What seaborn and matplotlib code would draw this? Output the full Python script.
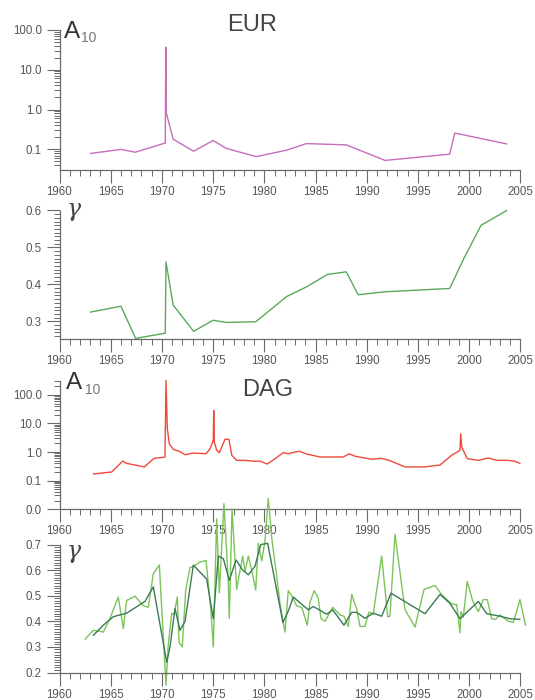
import numpy as np
import pandas as pd
import matplotlib
matplotlib.use("Agg")
import matplotlib.pyplot as plt
import matplotlib.ticker as mticker
import seaborn as sns

# ---------------- data ----------------
eur_a10_year = [1963.0, 1966.0, 1967.4, 1970.33, 1970.38, 1970.42, 1971.1, 1973.1, 1975.0, 1976.3,
                1979.2, 1982.2, 1984.1, 1988.0, 1991.8, 1998.1, 1998.6, 2003.7]
eur_a10_val = [0.079, 0.1, 0.085, 0.145, 36.6, 0.84, 0.18, 0.09, 0.167, 0.106,
               0.066, 0.096, 0.14, 0.13, 0.053, 0.076, 0.257, 0.137]

eur_gam_year = [1963.0, 1966.0, 1967.43, 1970.33, 1970.4, 1971.1, 1973.1, 1975.0, 1976.33, 1979.17,
                1982.17, 1984.1, 1986.17, 1988.0, 1989.17, 1991.77, 1998.1, 1999.5, 2001.17, 2003.67]
eur_gam_val = [0.325, 0.341, 0.254, 0.268, 0.461, 0.344, 0.273, 0.303, 0.297, 0.299,
               0.367, 0.393, 0.427, 0.434, 0.372, 0.380, 0.389, 0.471, 0.560, 0.600]

dag_a10_year = [1963.3, 1965.1, 1966.17, 1966.56, 1968.28, 1969.23, 1970.30, 1970.40, 1970.53, 1970.72,
                1971.11, 1971.70, 1972.26, 1973.07, 1974.31, 1974.70, 1975.02, 1975.06, 1975.12, 1975.35,
                1975.61, 1976.16, 1976.55, 1976.82, 1977.30, 1978.12, 1979.09, 1979.58, 1980.29, 1981.05,
                1981.86, 1982.34, 1983.0, 1983.42, 1984.14, 1985.44, 1987.71, 1988.30, 1988.86, 1990.49,
                1991.46, 1992.27, 1993.74, 1995.69, 1997.16, 1998.30, 1999.11, 1999.18, 1999.28, 1999.82,
                2000.90, 2001.88, 2002.70, 2003.83, 2004.48, 2004.97]
dag_a10_val = [0.17, 0.2, 0.48, 0.40, 0.30, 0.60, 0.66, 320.0, 6.5, 1.95,
               1.24, 1.06, 0.805, 0.92, 0.87, 1.30, 2.56, 28.7, 2.24, 1.15,
               0.95, 2.78, 2.78, 0.77, 0.51, 0.51, 0.473, 0.48, 0.38, 0.583,
               0.95, 0.87, 1.0, 1.06, 0.85, 0.67, 0.67, 0.87, 0.71, 0.556,
               0.60, 0.497, 0.30, 0.30, 0.35, 0.77, 1.15, 4.37, 1.5, 0.583,
               0.51, 0.617, 0.51, 0.51, 0.473, 0.40]

dag_gam_year = [1962.49, 1963.30, 1963.79, 1964.28, 1964.93, 1965.74, 1966.23, 1966.56, 1967.37, 1968.18,
                1968.67, 1969.16, 1969.75, 1970.40, 1970.62, 1970.96, 1971.18, 1971.50, 1971.67, 1971.99,
                1972.32, 1972.74, 1973.07, 1973.65, 1974.31, 1974.79, 1975.02, 1975.35, 1975.61, 1976.06,
                1976.48, 1976.58, 1976.85, 1977.30, 1977.63, 1977.89, 1978.12, 1978.44, 1978.77, 1979.16,
                1979.41, 1979.75, 1980.07, 1980.39, 1980.72, 1981.14, 1981.53, 1982.02, 1982.34, 1982.68,
                1983.16, 1983.65, 1984.20, 1984.46, 1984.88, 1985.27, 1985.54, 1985.93, 1986.68, 1987.39,
                1987.78, 1988.20, 1988.54, 1989.02, 1989.35, 1989.83, 1990.22, 1990.64, 1991.46, 1992.05,
                1992.27, 1992.76, 1993.74, 1994.72, 1995.60, 1996.67, 1997.32, 1998.30, 1998.79, 1999.11,
                1999.21, 1999.43, 1999.82, 2000.35, 2000.90, 2001.39, 2001.78, 2002.21, 2002.60, 2003.02,
                2003.83, 2004.32, 2004.97, 2005.50]
dag_gam_val = [0.330, 0.365, 0.362, 0.358, 0.412, 0.495, 0.372, 0.482, 0.498, 0.461,
               0.455, 0.586, 0.620, 0.150, 0.308, 0.432, 0.425, 0.495, 0.318, 0.300,
               0.520, 0.610, 0.614, 0.630, 0.638, 0.440, 0.300, 0.800, 0.512, 0.860,
               0.560, 0.412, 0.840, 0.525, 0.600, 0.655, 0.595, 0.655, 0.600, 0.522,
               0.705, 0.636, 0.715, 0.880, 0.728, 0.600, 0.470, 0.358, 0.520, 0.500,
               0.460, 0.455, 0.385, 0.475, 0.520, 0.490, 0.410, 0.400, 0.455, 0.425,
               0.420, 0.380, 0.505, 0.448, 0.380, 0.380, 0.436, 0.428, 0.655, 0.418,
               0.420, 0.740, 0.445, 0.378, 0.525, 0.540, 0.505, 0.468, 0.465, 0.355,
               0.438, 0.416, 0.556, 0.480, 0.438, 0.485, 0.485, 0.410, 0.408, 0.425,
               0.400, 0.396, 0.485, 0.385]

dag_gam_smooth_year = [1963.30, 1964.28, 1965.25, 1966.56, 1968.35, 1969.16, 1970.47, 1970.79, 1971.28, 1971.77,
                       1972.26, 1973.07, 1974.37, 1975.02, 1975.51, 1976.00, 1976.58, 1977.24, 1977.89, 1978.44,
                       1979.09, 1979.65, 1980.33, 1981.82, 1982.34, 1982.83, 1984.30, 1984.79, 1986.09, 1986.68,
                       1987.78, 1988.54, 1989.02, 1989.83, 1990.64, 1991.46, 1992.37, 1995.69, 1997.16, 1998.13,
                       1999.11, 2000.90, 2001.72, 2003.02, 2004.00, 2004.97]
dag_gam_smooth_val = [0.345, 0.385, 0.418, 0.432, 0.478, 0.535, 0.240, 0.300, 0.450, 0.365,
                      0.400, 0.620, 0.565, 0.410, 0.655, 0.645, 0.560, 0.640, 0.600, 0.582,
                      0.615, 0.700, 0.705, 0.395, 0.440, 0.495, 0.445, 0.458, 0.428, 0.445,
                      0.385, 0.435, 0.435, 0.412, 0.432, 0.420, 0.510, 0.430, 0.505, 0.470,
                      0.410, 0.478, 0.430, 0.420, 0.410, 0.408]

x_ticks = [1960, 1965, 1970, 1975, 1980, 1985, 1990, 1995, 2000, 2005]

# ---------------- style ----------------
sns.set_theme(style="white")
plt.rcParams['font.family'] = ['Liberation Sans', 'DejaVu Sans']
plt.rcParams['xtick.bottom'] = True
plt.rcParams['ytick.left'] = True

W, H = 535, 700
fig = plt.figure(figsize=(W / 100, H / 100), dpi=100)
fig.patch.set_facecolor("white")

AX_COL = "#6a6a6a"
LBL_COL = "#555555"
LEFT, RIGHT = 59.5, 520.3


def make_ax(top, bottom):
    ax = fig.add_axes([LEFT / W, 1 - bottom / H, (RIGHT - LEFT) / W, (bottom - top) / H])
    ax.set_facecolor("none")
    return ax


def style_ax(ax):
    for s in ("top", "right"):
        ax.spines[s].set_visible(False)
    for s in ("left", "bottom"):
        ax.spines[s].set_visible(True)
        ax.spines[s].set_color(AX_COL)
        ax.spines[s].set_linewidth(0.9)
    ax.set_xlim(1960, 2005)
    ax.set_xticks(x_ticks)
    ax.xaxis.set_minor_locator(mticker.MultipleLocator(1))
    ax.xaxis.set_major_formatter(mticker.FormatStrFormatter('%d'))
    ax.tick_params(axis='both', which='both', bottom=True, left=True, top=False, right=False,
                   direction='out')
    ax.tick_params(axis='both', which='major', length=9.2, width=0.8, color=AX_COL,
                   labelcolor=LBL_COL, labelsize=8.3)
    ax.tick_params(axis='both', which='minor', length=4.5, width=0.7, color=AX_COL)
    ax.tick_params(axis='x', which='major', pad=2.4)
    ax.tick_params(axis='y', which='major', pad=3.5)
    ax.grid(False)
    ax.set_xlabel("")
    ax.set_ylabel("")


def log_axis(ax, lo, hi):
    ax.set_yscale("log")
    ax.set_ylim(lo, hi)
    ax.yaxis.set_major_locator(mticker.LogLocator(base=10, numticks=10))
    ax.yaxis.set_minor_locator(mticker.LogLocator(base=10, subs=np.arange(2, 10), numticks=20))
    ax.yaxis.set_major_formatter(mticker.FormatStrFormatter('%.1f'))
    ax.yaxis.set_minor_formatter(mticker.NullFormatter())


def lin_axis(ax, lo, hi):
    ax.set_ylim(lo, hi)
    ax.yaxis.set_major_locator(mticker.MultipleLocator(0.1))
    ax.yaxis.set_minor_locator(mticker.MultipleLocator(0.01))
    ax.yaxis.set_major_formatter(mticker.FormatStrFormatter('%.1f'))


def unclip(ax):
    for ln in ax.lines:
        ln.set_clip_on(False)


def ftext(x, y, s, **kw):
    fig.text(x / W, 1 - y / H, s, **kw)


# Panel 1: EUR A10
ax1 = make_ax(29.7, 169.6)
df1 = pd.DataFrame({"year": eur_a10_year, "val": eur_a10_val})
sns.lineplot(data=df1, x="year", y="val", ax=ax1, estimator=None, sort=False,
             color="#c86cbc", linewidth=1.0)
log_axis(ax1, 0.0312, 100)
style_ax(ax1)
unclip(ax1)

# Panel 2: EUR gamma
ax2 = make_ax(210.5, 339.1)
df2 = pd.DataFrame({"year": eur_gam_year, "val": eur_gam_val})
sns.lineplot(data=df2, x="year", y="val", ax=ax2, estimator=None, sort=False,
             color="#5aaa5a", linewidth=1.0)
lin_axis(ax2, 0.252, 0.6)
style_ax(ax2)
unclip(ax2)

# Panel 3: DAG A10
ax3 = make_ax(380.5, 509.1)
df3 = pd.DataFrame({"year": dag_a10_year, "val": dag_a10_val})
sns.lineplot(data=df3, x="year", y="val", ax=ax3, estimator=None, sort=False,
             color="#ee4a3a", linewidth=1.0)
log_axis(ax3, 0.01, 320)
style_ax(ax3)
unclip(ax3)

# Panel 4: DAG gamma
ax4 = make_ax(544.6, 672.5)
df4 = pd.DataFrame({"year": dag_gam_year, "val": dag_gam_val})
df5 = pd.DataFrame({"year": dag_gam_smooth_year, "val": dag_gam_smooth_val})
sns.lineplot(data=df4, x="year", y="val", ax=ax4, estimator=None, sort=False,
             color="#7cc45a", linewidth=1.0)
sns.lineplot(data=df5, x="year", y="val", ax=ax4, estimator=None, sort=False,
             color="#3b7a55", linewidth=1.0)
lin_axis(ax4, 0.2, 0.7)
style_ax(ax4)
unclip(ax4)

# ---------------- text labels ----------------
TITLE_COL = "#444444"
ftext(252.5, 25, "EUR", ha="center", va="center", fontsize=17, color=TITLE_COL)
ftext(267.8, 390, "DAG", ha="center", va="center", fontsize=17, color=TITLE_COL)

ftext(64, 38.5, "A", ha="left", va="baseline", fontsize=17.5, color="#333333")
ftext(81, 41.5, "10", ha="left", va="baseline", fontsize=10, color="#777777")
ftext(66, 389.5, "A", ha="left", va="baseline", fontsize=17.5, color="#333333")
ftext(85, 394.5, "10", ha="left", va="baseline", fontsize=10, color="#777777")

ftext(67, 216, "γ", ha="left", va="baseline", fontsize=17, color="#444444",
      family=["DejaVu Serif"], style="italic")
ftext(67, 558, "γ", ha="left", va="baseline", fontsize=17, color="#444444",
      family=["DejaVu Serif"], style="italic")

fig.savefig("out.png", dpi=100, facecolor="white")
